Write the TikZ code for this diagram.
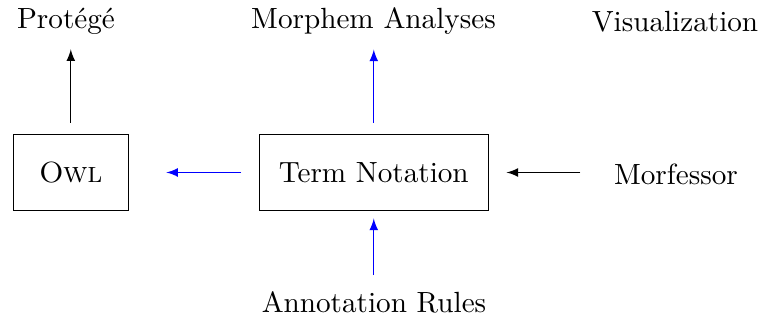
\documentclass[tikz,border=0pt]{standalone}
\usetikzlibrary{arrows.meta}
\begin{document}
\begin{tikzpicture}[x=0.3425pt,y=-0.3425pt,
  lbl/.style={inner sep=0pt},
  boxnode/.style={draw, inner sep=0pt, minimum height=26.2pt},
  arr/.style={-latex},
  barr/.style={-latex, blue}]
\useasboundingbox (0,0) rectangle (761,322);
\node[lbl] (protege) at (66,21.5) {Protégé};
\node[lbl] (morph) at (373.5,21.5) {Morphem Analyses};
\node[lbl] (vis) at (675,22) {Visualization};
\node[boxnode, minimum width=39.4pt] (owl) at (70.8,172.5) {\textsc{Owl}};
\node[boxnode, minimum width=78.4pt] (term) at (373.8,172.5) {Term Notation};
\node[lbl] (morf) at (676,174) {Morfessor};
\node[lbl] (annot) at (374,302) {Annotation Rules};
\draw[arr, shorten <=3.8pt, shorten >=4.8pt] (owl.north) -- (owl.north |- protege.south);
\draw[barr, shorten <=3.8pt, shorten >=4.8pt] (term.north) -- (term.north |- morph.south);
\draw[barr, shorten <=6.05pt, shorten >=12.8pt] (term.west) -- (owl.east);
\draw[arr, shorten <=11.4pt, shorten >=6.05pt] (morf.west |- term.east) -- (term.east);
\draw[barr, shorten <=5.3pt, shorten >=2.45pt] (term.south |- annot.north) -- (term.south);
\end{tikzpicture}
\end{document}
